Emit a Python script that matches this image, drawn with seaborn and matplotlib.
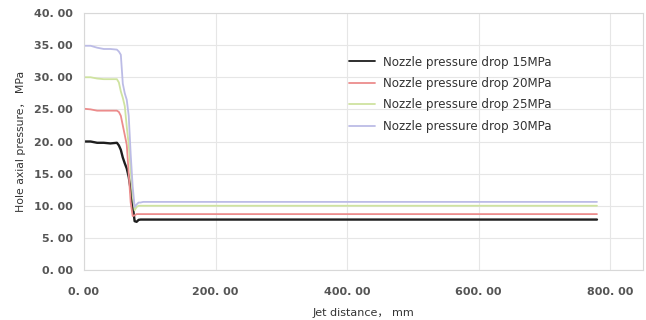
import numpy as np
import pandas as pd
import seaborn as sns
import matplotlib
matplotlib.use("Agg")
import matplotlib.pyplot as plt
from matplotlib.ticker import FuncFormatter

# Jet distance (mm)
x_mm = [0, 10, 20, 30, 40, 50, 53, 56, 59, 62, 65, 68, 71, 74, 77, 80, 83, 86, 90, 100, 200, 400, 600, 780]

p15 = [20.0, 20.0, 19.8, 19.8, 19.7, 19.8, 19.4, 18.7, 17.5, 16.6, 15.8, 14.5, 12.5, 10.0, 7.6, 7.5, 7.8, 7.85, 7.85, 7.85, 7.85, 7.85, 7.85, 7.85]
p20 = [25.1, 25.0, 24.8, 24.8, 24.8, 24.8, 24.6, 24.0, 22.5, 21.0, 19.5, 15.0, 10.5, 8.4, 8.5, 8.7, 8.7, 8.7, 8.7, 8.7, 8.7, 8.7, 8.7, 8.7]
p25 = [30.0, 30.0, 29.8, 29.7, 29.7, 29.7, 29.2, 27.8, 26.8, 25.5, 22.3, 19.5, 15.5, 11.5, 9.3, 9.8, 10.0, 10.0, 10.0, 10.0, 10.0, 10.0, 10.0, 10.0]
p30 = [34.9, 34.9, 34.6, 34.4, 34.4, 34.3, 34.0, 33.5, 29.0, 27.5, 26.5, 24.0, 18.0, 13.0, 9.8, 10.2, 10.5, 10.5, 10.6, 10.6, 10.6, 10.6, 10.6, 10.6]

series_names = ["Nozzle pressure drop 15MPa", "Nozzle pressure drop 20MPa",
                "Nozzle pressure drop 25MPa", "Nozzle pressure drop 30MPa"]
series_vals = [p15, p20, p25, p30]
x_ticks = [0, 200, 400, 600, 800]
y_ticks = [0, 5, 10, 15, 20, 25, 30, 35, 40]

df = pd.concat([pd.DataFrame({"x": x_mm, "y": v, "s": n}) for n, v in zip(series_names, series_vals)])

sns.set_theme(style="white")
plt.rcParams['font.family'] = ['DejaVu Sans', 'Noto Sans CJK SC']

fig = plt.figure(figsize=(6.46, 3.20), dpi=100)
ax = fig.add_axes([84/646, 50/320, (643-84)/646, (270-13)/320])

palette = {series_names[0]: "#1e1e1e", series_names[1]: "#ec8c8c",
           series_names[2]: "#cfe3a0", series_names[3]: "#bcbce6"}
sns.lineplot(data=df, x="x", y="y", hue="s", palette=palette, ax=ax, linewidth=1.3, sort=False)
for ln in ax.get_lines()[:1]:
    ln.set_linewidth(1.7)

ax.set_xlim(0, 850)
ax.set_ylim(0, 40)
ax.set_xticks(x_ticks)
ax.set_yticks(y_ticks)
fmt = FuncFormatter(lambda v, p: f"{v:.2f}".replace(".", ". "))
ax.xaxis.set_major_formatter(fmt)
ax.yaxis.set_major_formatter(fmt)
ax.tick_params(axis="x", labelsize=8, colors="#555555", length=0, pad=12)
ax.tick_params(axis="y", labelsize=8, colors="#555555", length=0, pad=8)
for lab in ax.get_xticklabels() + ax.get_yticklabels():
    lab.set_fontweight("bold")
ax.grid(True, color="#e6e6e6", linewidth=0.8)
for sp in ax.spines.values():
    sp.set_color("#d8d8d8")
    sp.set_linewidth(0.8)

ax.set_xlabel("Jet distance， mm", fontsize=8, color="#333333", labelpad=8)
ax.set_ylabel("Hole axial pressure， MPa", fontsize=7.8, color="#333333", labelpad=6)

leg = ax.legend(loc="upper left", bbox_to_anchor=(0.455, 0.876), frameon=False,
                fontsize=8.6, handlelength=2.2, labelspacing=0.7, handletextpad=0.6)
for t in leg.get_texts():
    t.set_color("#333333")

fig.savefig("out.png", dpi=100)
